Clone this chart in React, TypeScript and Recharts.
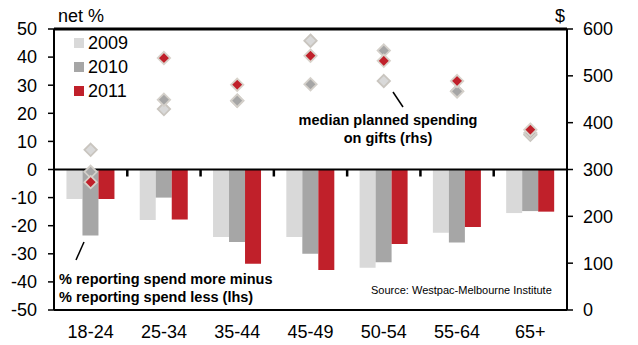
import React from 'react';
import {
  ComposedChart,
  Bar,
  Scatter,
  XAxis,
  YAxis,
  ReferenceLine,
} from 'recharts';

// Age groups along the x axis
const ageGroups = ['18-24', '25-34', '35-44', '45-49', '50-54', '55-64', '65+'];

// Net % spending more minus spending less (lhs)
const net2009 = [-10.5, -18, -24, -24, -35, -22.5, -15.5];
const net2010 = [-23.5, -10, -25.8, -30, -33, -26, -14.8];
const net2011 = [-10.5, -17.8, -33.5, -35.8, -26.5, -20.5, -15];

// Median planned spending on gifts, $ (rhs)
const spend2009 = [342, 429, 447, 575, 489, 467, 374];
const spend2010 = [295, 449, 447, 482, 554, 467, 378];
const spend2011 = [273, 538, 481, 543, 532, 489, 385];

const leftTicks = [-50, -40, -30, -20, -10, 0, 10, 20, 30, 40, 50];
const rightTicks = [0, 100, 200, 300, 400, 500, 600];

const years = [
  { name: '2009', color: '#d9d9d9', edge: '#c9c5bf' },
  { name: '2010', color: '#a6a6a6', edge: '#d4d0ca' },
  { name: '2011', color: '#c0202a', edge: '#d8d2ca' },
];

const chartData = ageGroups.map((cat, i) => ({
  cat,
  b2009: net2009[i],
  b2010: net2010[i],
  b2011: net2011[i],
  s2009: spend2009[i],
  s2010: spend2010[i],
  s2011: spend2011[i],
}));

// small tick marks on the zero line, between age groups (0..n helper axis)
const boundaryTicks = ageGroups.slice(1).map((_, i) => ({ pos: i + 1, zero: 0 }));

const FONT = '"Liberation Sans", Arial, sans-serif';

function diamond(fill: string, edge: string) {
  return (props: any) => {
    const { cx, cy } = props;
    if (cx == null || cy == null) return <g />;
    const r = 6.2;
    return (
      <polygon
        points={`${cx},${cy - r} ${cx + r},${cy} ${cx},${cy + r} ${cx - r},${cy}`}
        fill={fill}
        stroke={edge}
        strokeWidth={1.8}
      />
    );
  };
}

const zeroTick = (props: any) => {
  const { cx, cy } = props;
  if (cx == null || cy == null) return <g />;
  return <line x1={cx} y1={cy} x2={cx} y2={cy + 7} stroke="#000" strokeWidth={2.5} />;
};

const tickStyle = { fontSize: 18, fill: '#000', fontFamily: FONT };

export default function App() {
  return (
    <div style={{ position: 'absolute', left: 0, top: 0, width: 638, height: 345, fontFamily: FONT }}>
      <ComposedChart
        width={638}
        height={345}
        data={chartData}
        margin={{ top: 29, right: 0, bottom: 5, left: 0 }}
        barCategoryGap="17%"
        barGap={0}
      >
        <XAxis
          dataKey="cat"
          xAxisId={0}
          height={30}
          axisLine={{ stroke: '#000', strokeWidth: 2 }}
          tickLine={false}
          tickMargin={9}
          tick={tickStyle}
        />
        <XAxis
          xAxisId="grid"
          dataKey="pos"
          type="number"
          domain={[0, ageGroups.length]}
          allowDataOverflow
          hide
        />
        <YAxis
          yAxisId="left"
          domain={[-50, 50]}
          ticks={leftTicks}
          interval={0}
          width={54}
          axisLine={{ stroke: '#000', strokeWidth: 2 }}
          tickLine={{ stroke: '#000', strokeWidth: 1.5 }}
          tickSize={6}
          tickMargin={11}
          tick={tickStyle}
        />
        <YAxis
          yAxisId="right"
          orientation="right"
          domain={[0, 600]}
          ticks={rightTicks}
          interval={0}
          width={71}
          axisLine={{ stroke: '#000', strokeWidth: 2 }}
          tickLine={{ stroke: '#000', strokeWidth: 1.5 }}
          tickSize={6}
          tickMargin={10}
          tick={tickStyle}
        />
        <Bar yAxisId="left" dataKey="b2009" fill={years[0].color} isAnimationActive={false} />
        <Bar yAxisId="left" dataKey="b2010" fill={years[1].color} isAnimationActive={false} />
        <Bar yAxisId="left" dataKey="b2011" fill={years[2].color} isAnimationActive={false} />
        {/* top frame line */}
        <ReferenceLine yAxisId="left" y={50} stroke="#000" strokeWidth={3} ifOverflow="visible" />
        <ReferenceLine yAxisId="left" y={0} stroke="#000" strokeWidth={2} />
        <Scatter
          xAxisId="grid"
          yAxisId="left"
          data={boundaryTicks}
          dataKey="zero"
          shape={zeroTick}
          isAnimationActive={false}
        />
        <Scatter
          yAxisId="right"
          dataKey="s2009"
          shape={diamond(years[0].color, years[0].edge)}
          isAnimationActive={false}
        />
        <Scatter
          yAxisId="right"
          dataKey="s2010"
          shape={diamond(years[1].color, years[1].edge)}
          isAnimationActive={false}
        />
        <Scatter
          yAxisId="right"
          dataKey="s2011"
          shape={diamond(years[2].color, years[2].edge)}
          isAnimationActive={false}
        />
      </ComposedChart>

      {/* series key */}
      <div style={{ position: 'absolute', left: 74, top: 31, fontSize: 18, color: '#000' }}>
        {years.map((y) => (
          <div key={y.name} style={{ display: 'flex', alignItems: 'center', height: 24 }}>
            <span style={{ width: 10, height: 10, background: y.color, marginRight: 4 }} />
            <span>{y.name}</span>
          </div>
        ))}
      </div>

      {/* axis units */}
      <div style={{ position: 'absolute', left: 58, top: 6, fontSize: 18 }}>net %</div>
      <div style={{ position: 'absolute', left: 555, top: 6, fontSize: 18 }}>$</div>

      {/* callouts */}
      <div
        style={{
          position: 'absolute',
          left: 288,
          width: 200,
          top: 111,
          fontSize: 14.5,
          fontWeight: 'bold',
          lineHeight: '18px',
          textAlign: 'center',
        }}
      >
        median planned spending
        <br />
        on gifts (rhs)
      </div>
      <div
        style={{
          position: 'absolute',
          left: 59,
          top: 270,
          fontSize: 14.5,
          fontWeight: 'bold',
          lineHeight: '18px',
          whiteSpace: 'nowrap',
        }}
      >
        % reporting spend more minus
        <br />
        % reporting spend less (lhs)
      </div>
      <div style={{ position: 'absolute', left: 371, top: 284, fontSize: 11, whiteSpace: 'nowrap' }}>
        Source: Westpac-Melbourne Institute
      </div>
      <svg width={14} height={20} style={{ position: 'absolute', left: 391, top: 90 }}>
        <line x1={2} y1={2} x2={12} y2={17} stroke="#000" strokeWidth={1.5} />
      </svg>
      <svg width={12} height={22} style={{ position: 'absolute', left: 74, top: 240 }}>
        <line x1={2} y1={20} x2={10} y2={2} stroke="#000" strokeWidth={1.5} />
      </svg>
    </div>
  );
}
